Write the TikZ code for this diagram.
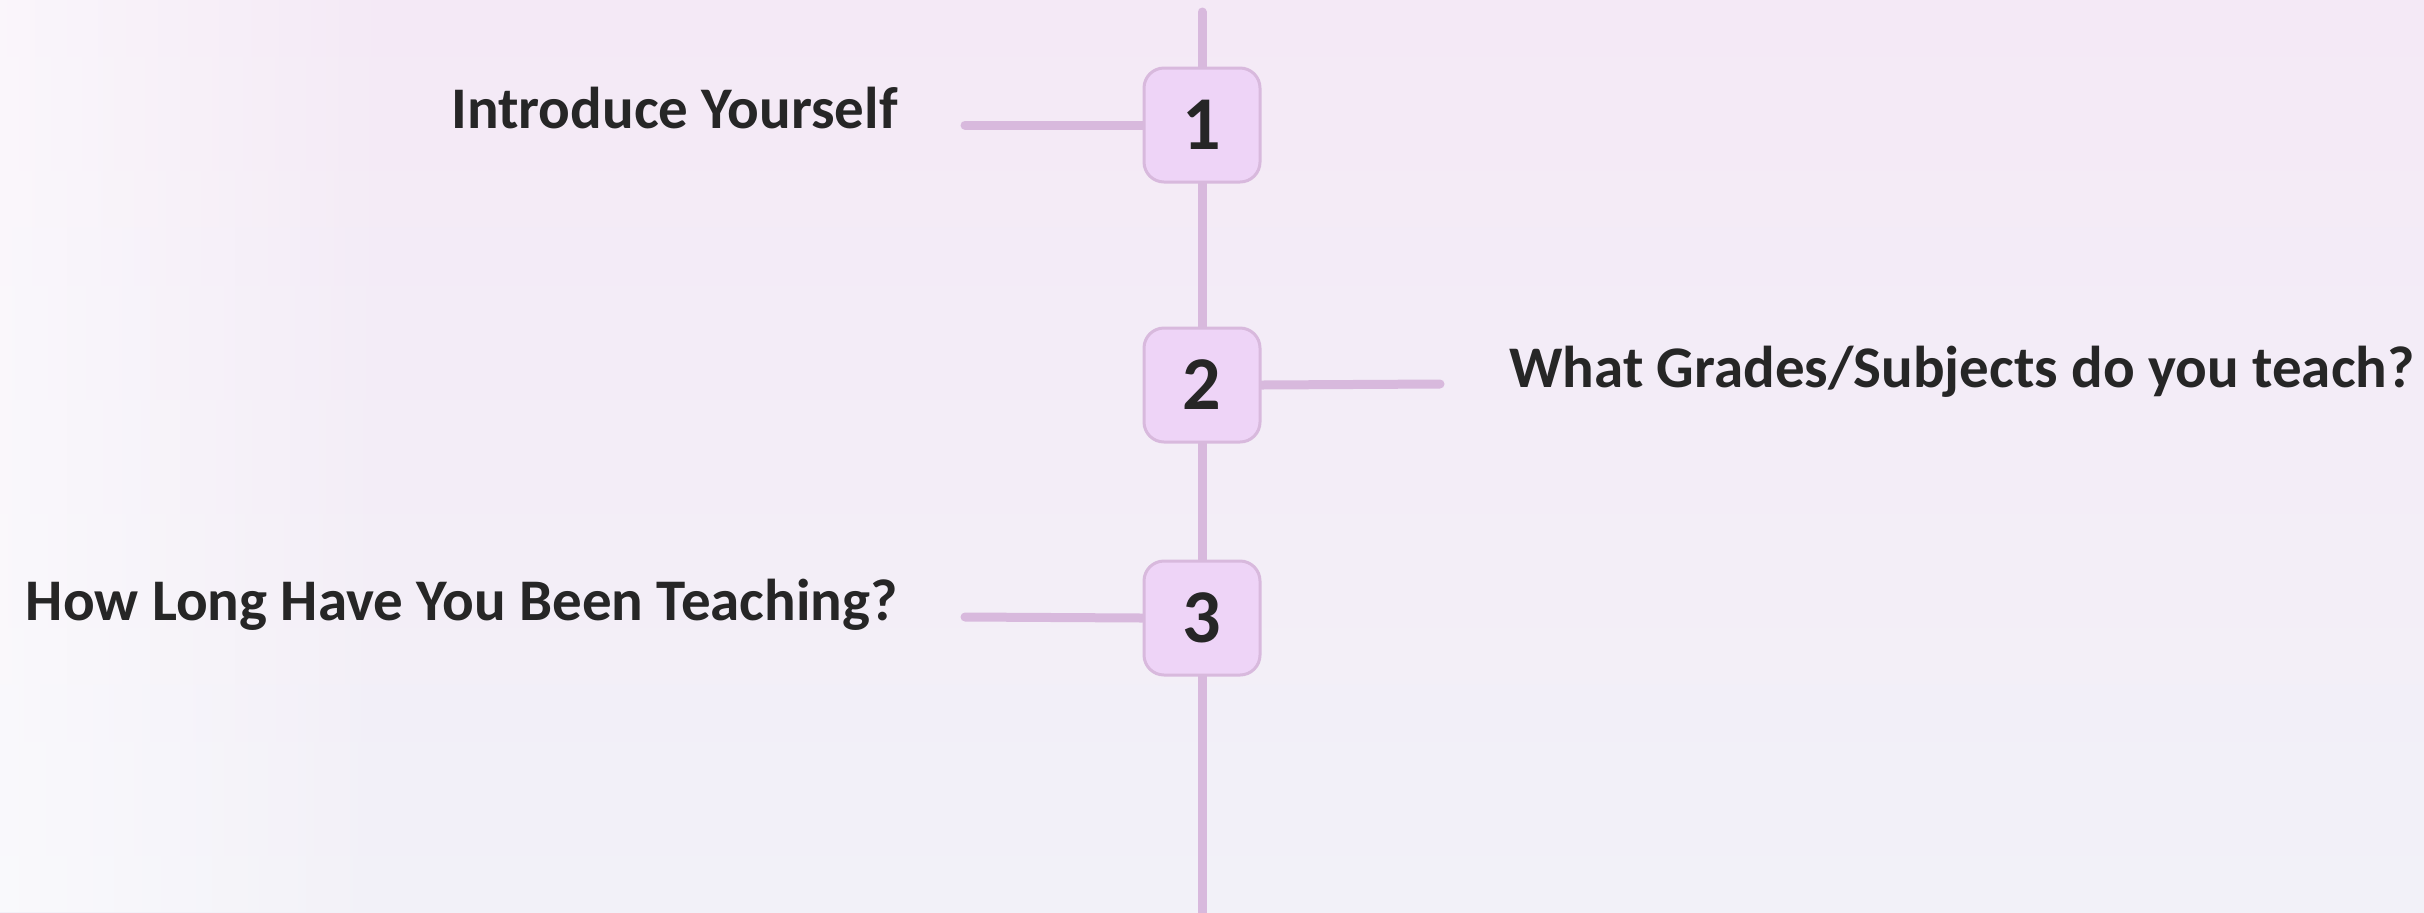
\documentclass[tikz,border=0pt]{standalone}
\usepackage{fontspec}
\setmainfont{Carlito}
\usetikzlibrary{fadings}

\definecolor{bgtop}{HTML}{F4E9F6}
\definecolor{bgbot}{HTML}{F2F1F8}
\definecolor{boxfill}{HTML}{EED4F7}
\definecolor{boxline}{HTML}{D8B9DD}
\definecolor{ink}{HTML}{262626}

\pgfdeclarelayer{back}
\pgfdeclarelayer{lines}
\pgfsetlayers{back,lines,main}

\tikzset{
  stepnum/.style={draw=boxline, fill=boxfill, line width=1.5pt, rounded corners=10pt,
    minimum width=58pt, minimum height=57pt, inner sep=0pt, text=ink,
    font=\bfseries\fontsize{38}{38}\selectfont},
  steplabel/.style={inner sep=0pt, text=ink, font=\bfseries\fontsize{29.5}{29.5}\selectfont},
  spine/.style={draw=boxline, line width=4.5pt, line cap=round}
}

\begin{document}
\begin{tikzpicture}[x=0.5pt,y=-0.5pt]
\useasboundingbox (0,0) rectangle (2424,912);
% background
\begin{pgfonlayer}{back}
\shade[top color=bgtop, bottom color=bgbot] (0,0) rectangle (2424,912);
\fill[white, path fading=east, fill opacity=0.6] (0,0) rectangle (400,912);
\end{pgfonlayer}

% steps
\node[stepnum] (n1) at (1202,125) {1};
\node[stepnum] (n2) at (1202,385) {2};
\node[stepnum] (n3) at (1202,618) {3};

% labels
\node[steplabel, anchor=base east] (t1) at (898,128) {Introduce Yourself};
\node[steplabel, anchor=base west] (t2) at (1509,387) {What Grades/Subjects do you teach?};
\node[steplabel, anchor=base east] (t3) at (898,620) {How Long Have You Been Teaching?};

\coordinate (top) at (1202,12);
\coordinate (bot) at (1202,930);
\coordinate (e1) at (965,125);
\coordinate (e2) at (1440,384);
\coordinate (e3) at (965,617);

% connectors
\begin{pgfonlayer}{lines}
\draw[spine] (top) -- (n1);
\draw[spine] (n1) -- (n2);
\draw[spine] (n2) -- (n3);
\draw[spine] (n3) -- (bot);
\draw[spine] (n1.west) -- (e1);
\draw[spine] (n2.east) -- (e2);
\draw[spine] (n3.west) -- (e3);
\end{pgfonlayer}
\end{tikzpicture}
\end{document}
